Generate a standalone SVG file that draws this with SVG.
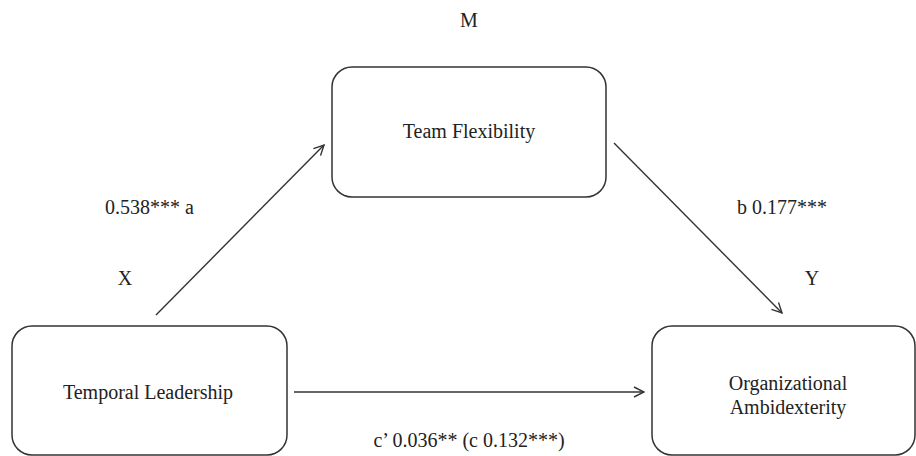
<svg xmlns="http://www.w3.org/2000/svg" width="916" height="456" viewBox="0 0 916 456">
<style>
.box{fill:#fff;stroke:#333;stroke-width:1.5}
text{font-family:"Liberation Serif","Times New Roman",serif;font-size:20px;fill:#222}
.c{text-anchor:middle}
.edge{stroke:#333;stroke-width:1.4;fill:none;marker-end:url(#arr)}
</style>
<defs>
<marker id="arr" viewBox="0 0 12 12" refX="11" refY="6" markerWidth="12" markerHeight="12" markerUnits="userSpaceOnUse" orient="auto">
<path d="M1,1 L11,6 L1,11" fill="none" stroke="#333" stroke-width="1.4"/>
</marker>
</defs>
<rect width="916" height="456" fill="#fff"/>
<g id="node-m">
<rect class="box" x="332" y="67" width="274" height="130" rx="20"/>
<text class="c" x="469" y="138">Team Flexibility</text>
</g>
<g id="node-x">
<rect class="box" x="12" y="326" width="275" height="129" rx="20"/>
<text class="c" x="148" y="399">Temporal Leadership</text>
</g>
<g id="node-y">
<rect class="box" x="652" y="326" width="263" height="129" rx="20"/>
<text class="c" x="788" y="390">Organizational</text>
<text class="c" x="788" y="414">Ambidexterity</text>
</g>
<g id="labels">
<text class="c" x="469" y="27">M</text>
<text class="c" x="125" y="285">X</text>
<text class="c" x="812" y="285">Y</text>
</g>
<g id="connectors">
<line class="edge" x1="156" y1="315" x2="324" y2="145"/>
<line class="edge" x1="614" y1="143" x2="782" y2="313"/>
<line class="edge" x1="294" y1="392" x2="644" y2="392"/>
<text x="105" y="214">0.538*** a</text>
<text x="737" y="214">b 0.177***</text>
<text class="c" x="469" y="447">c’ 0.036** (c 0.132***)</text>
</g>
</svg>
